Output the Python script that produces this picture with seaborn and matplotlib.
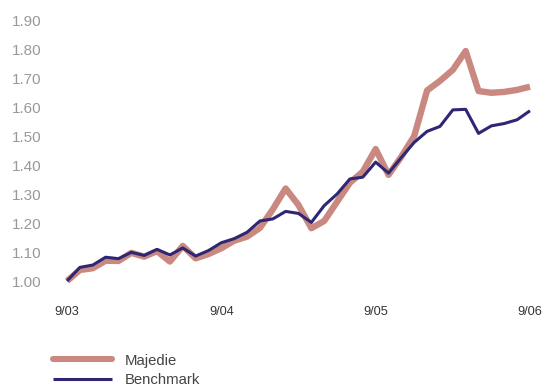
import numpy as np
import pandas as pd
import matplotlib
matplotlib.use("Agg")
import matplotlib.pyplot as plt
import seaborn as sns
from matplotlib.lines import Line2D

# Monthly index values, Sep 2003 to Sep 2006 (rebased to 1.00)
month_index = list(range(37))
majedie = [1.000, 1.038, 1.044, 1.070, 1.069, 1.097, 1.084, 1.103, 1.067, 1.121,
           1.078, 1.093, 1.113, 1.139, 1.153, 1.183, 1.247, 1.319, 1.262, 1.182,
           1.207, 1.273, 1.339, 1.377, 1.455, 1.366, 1.429, 1.500, 1.657, 1.690,
           1.728, 1.793, 1.655, 1.649, 1.652, 1.659, 1.670]
benchmark = [1.000, 1.047, 1.055, 1.082, 1.077, 1.099, 1.088, 1.109, 1.090, 1.114,
             1.086, 1.105, 1.132, 1.146, 1.168, 1.207, 1.214, 1.240, 1.233, 1.202,
             1.260, 1.300, 1.352, 1.358, 1.410, 1.372, 1.426, 1.478, 1.516, 1.533,
             1.590, 1.592, 1.509, 1.535, 1.543, 1.556, 1.587]
series_names = ["Majedie", "Benchmark"]
x_tick_pos = [0, 12, 24, 36]
x_tick_labels = ["9/03", "9/04", "9/05", "9/06"]
y_ticks = [1.00, 1.10, 1.20, 1.30, 1.40, 1.50, 1.60, 1.70, 1.80, 1.90]

df = pd.DataFrame({
    "month": month_index * 2,
    "value": majedie + benchmark,
    "series": [series_names[0]] * len(majedie) + [series_names[1]] * len(benchmark),
})

sns.set_style("white")
plt.rcParams["font.family"] = ["Liberation Sans", "DejaVu Sans"]

colors = {"Majedie": "#c98981", "Benchmark": "#2f2674"}
widths = {"Majedie": 4.6, "Benchmark": 2.2}

W, H = 542, 387
fig = plt.figure(figsize=(W / 100, H / 100), dpi=100)
ax_left, ax_right = 60.6, 536.4
ax_top, ax_bottom = 14.2, 286.8
ax = fig.add_axes([ax_left / W, 1 - ax_bottom / H,
                   (ax_right - ax_left) / W, (ax_bottom - ax_top) / H])

for name in series_names:
    sub = df[df["series"] == name]
    sns.lineplot(data=sub, x="month", y="value", ax=ax, color=colors[name],
                 linewidth=widths[name], legend=False, clip_on=False,
                 solid_joinstyle="round", solid_capstyle="butt")

ax.set_xlim(-0.5, 36.5)
ax.set_ylim(0.98, 1.92)
ax.set_xticks(x_tick_pos)
ax.set_xticklabels(x_tick_labels)
ax.set_yticks(y_ticks)
ax.set_yticklabels([f"{v:.2f}" for v in y_ticks])
ax.set_xlabel("")
ax.set_ylabel("")
ax.tick_params(axis="y", length=0, pad=13.5, labelsize=11, labelcolor="#999999")
ax.tick_params(axis="x", length=0, pad=13.5, labelsize=9.2, labelcolor="#333333")
for s in ax.spines.values():
    s.set_visible(False)
ax.grid(False)

handles = [Line2D([], [], color=colors[n], linewidth=widths[n] * (0.95 if n == "Majedie" else 1),
                  solid_capstyle="round" if n == "Majedie" else "butt")
           for n in series_names]
leg = fig.legend(handles, series_names, loc="center left",
                 bbox_to_anchor=(53 / W, 1 - 370.5 / H), frameon=False,
                 fontsize=10.7, handlelength=4.0, handletextpad=0.85,
                 labelspacing=0.4, borderpad=0, borderaxespad=0)
for t in leg.get_texts():
    t.set_color("#444444")

fig.savefig("out.png", dpi=100)
